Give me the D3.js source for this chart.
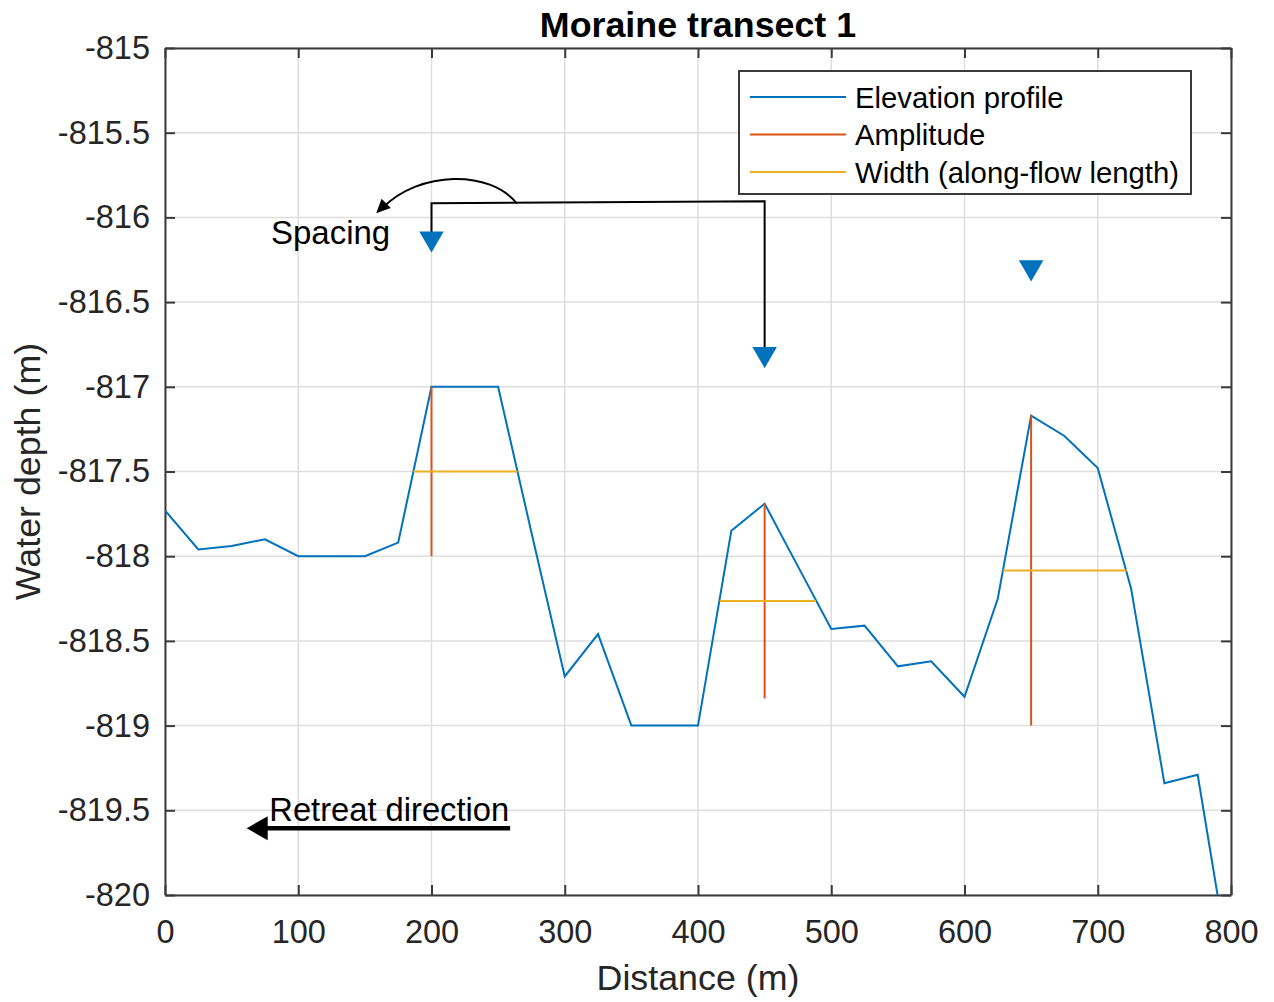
<!DOCTYPE html>
<html>
<head>
<meta charset="utf-8">
<script src="https://cdn.jsdelivr.net/npm/d3@7"></script>
<style>
  html, body { margin: 0; padding: 0; background: #fff; }
  svg { display: block; font-family: "Liberation Sans", Arial, Helvetica, sans-serif; }
</style>
</head>
<body>
<svg id="chart" width="1274" height="1002"></svg>
<script>
// Elevation profile along the transect (distance in m, water depth in m)
const distance = [0, 25, 50, 75, 100, 125, 150, 175, 200, 225, 250, 275, 300, 325, 350, 375, 400,
                  425, 450, 475, 500, 525, 550, 575, 600, 625, 650, 675, 700, 725, 750, 775, 800];
const depth = [-817.73, -817.96, -817.94, -817.90, -818.00, -818.00, -818.00, -817.92, -817.00, -817.00,
               -817.00, -817.86, -818.71, -818.46, -819.00, -819.00, -819.00, -817.85, -817.69, -818.06,
               -818.43, -818.41, -818.65, -818.62, -818.83, -818.25, -817.17, -817.29, -817.48, -818.19,
               -819.34, -819.29, -820.48];

// Moraine crests: amplitude (vertical) and width (along-flow length at half amplitude)
const crestX = [200, 450, 650];
const crestTop = [-817.00, -817.69, -817.17];
const crestBase = [-818.00, -818.84, -819.00];
const widthLevel = [-817.50, -818.265, -818.085];
const widthStart = [186.4, 416.3, 628.8];
const widthEnd = [264.6, 488.6, 721.8];
const markerDepth = [-816.145, -816.827, -816.316];

// Axis ticks
const xTicks = [0, 100, 200, 300, 400, 500, 600, 700, 800];
const yTicks = [-815, -815.5, -816, -816.5, -817, -817.5, -818, -818.5, -819, -819.5, -820];

const legendLabels = ["Elevation profile", "Amplitude", "Width (along-flow length)"];
const colors = { profile: "#0072BD", amplitude: "#D95319", width: "#EDB120" };

const svg = d3.select("#chart");
const m = { left: 165, right: 1231, top: 48, bottom: 895 };

const x = d3.scaleLinear().domain([0, 800]).range([m.left, m.right]);
const y = d3.scaleLinear().domain([-820, -815]).range([m.bottom, m.top]);

const axisColor = "#262626";
const tickFont = 32.5;

// clip region for the plotting area
svg.append("defs").append("clipPath").attr("id", "plotClip")
  .append("rect").attr("x", m.left).attr("y", m.top)
  .attr("width", m.right - m.left).attr("height", m.bottom - m.top);

// background
svg.append("rect").attr("x", m.left).attr("y", m.top)
  .attr("width", m.right - m.left).attr("height", m.bottom - m.top).attr("fill", "#fff");

// grid
const grid = svg.append("g").attr("stroke", "#dedede").attr("stroke-width", 1.5);
grid.selectAll(".gx").data(xTicks).join("line")
  .attr("x1", d => x(d)).attr("x2", d => x(d)).attr("y1", m.top).attr("y2", m.bottom);
grid.selectAll(".gy").data(yTicks).join("line")
  .attr("y1", d => y(d)).attr("y2", d => y(d)).attr("x1", m.left).attr("x2", m.right);

// axes with inward ticks on all four sides
function styleAxis(g) {
  g.selectAll(".domain").attr("stroke", "#3a3a3a").attr("stroke-width", 2);
  g.selectAll(".tick line").attr("stroke", "#3a3a3a").attr("stroke-width", 2);
  g.selectAll(".tick text").attr("fill", axisColor).attr("font-size", tickFont)
    .attr("font-family", "Liberation Sans, Arial, sans-serif");
}
const fmt = d => String(d);

svg.append("g").attr("transform", `translate(0,${m.bottom})`)
  .call(d3.axisBottom(x).tickValues(xTicks).tickFormat(fmt).tickSize(-10).tickSizeOuter(0).tickPadding(25))
  .call(styleAxis);
svg.append("g").attr("transform", `translate(0,${m.top})`)
  .call(d3.axisTop(x).tickValues(xTicks).tickFormat("").tickSize(-10).tickSizeOuter(0))
  .call(styleAxis);
svg.append("g").attr("transform", `translate(${m.left},0)`)
  .call(d3.axisLeft(y).tickValues(yTicks).tickFormat(fmt).tickSize(-10).tickSizeOuter(0).tickPadding(15))
  .call(styleAxis);
svg.append("g").attr("transform", `translate(${m.right},0)`)
  .call(d3.axisRight(y).tickValues(yTicks).tickFormat("").tickSize(-10).tickSizeOuter(0))
  .call(styleAxis);

const plot = svg.append("g").attr("clip-path", "url(#plotClip)");

// elevation profile
const line = d3.line().x((d, i) => x(distance[i])).y(d => y(d));
plot.append("path").datum(depth)
  .attr("d", line).attr("fill", "none")
  .attr("stroke", colors.profile).attr("stroke-width", 2).attr("stroke-linejoin", "miter");

// amplitude lines
plot.selectAll(".amp").data(crestX).join("line")
  .attr("x1", d => x(d)).attr("x2", d => x(d))
  .attr("y1", (d, i) => y(crestTop[i])).attr("y2", (d, i) => y(crestBase[i]))
  .attr("stroke", colors.amplitude).attr("stroke-width", 2);

// width lines
plot.selectAll(".wid").data(widthLevel).join("line")
  .attr("x1", (d, i) => x(widthStart[i])).attr("x2", (d, i) => x(widthEnd[i]))
  .attr("y1", d => y(d)).attr("y2", d => y(d))
  .attr("stroke", colors.width).attr("stroke-width", 2);

// spacing connector between the first two crests
const connector = [[200, markerDepth[0]], [200, -815.917], [450, -815.905], [450, markerDepth[1]]];
svg.append("path")
  .attr("d", d3.line().x(d => x(d[0])).y(d => y(d[1]))(connector))
  .attr("fill", "none").attr("stroke", "#000").attr("stroke-width", 2);

// curved arrow pointing to the "Spacing" label
const curve = { start: [264, -815.917], c1: [243.9, -815.72], c2: [191.4, -815.72], end: [158.5, -815.975] };
const cp = k => [x(curve[k][0]), y(curve[k][1])];
const [sx, sy] = cp("start"), [c1x, c1y] = cp("c1"), [c2x, c2y] = cp("c2"), [ex, ey] = cp("end");
svg.append("path")
  .attr("d", `M${sx},${sy} C${c1x},${c1y} ${c2x},${c2y} ${ex + 6},${ey - 5}`)
  .attr("fill", "none").attr("stroke", "#000").attr("stroke-width", 2);
{
  const ang = Math.atan2(ey - c2y, ex - c2x);
  const L = 14, W = 6.5;
  const bx = ex - L * Math.cos(ang), by = ey - L * Math.sin(ang);
  const px = -Math.sin(ang) * W, py = Math.cos(ang) * W;
  svg.append("path")
    .attr("d", `M${ex},${ey} L${bx + px},${by + py} L${bx - px},${by - py} Z`)
    .attr("fill", "#000");
}

// crest markers (downward triangles, centred on their bounding box)
const tri = d3.symbol().type(d3.symbolTriangle).size(260);
svg.selectAll(".mk").data(crestX).join("path")
  .attr("d", tri)
  .attr("transform", (d, i) => `translate(${x(d)},${y(markerDepth[i]) - 3.5}) rotate(180)`)
  .attr("fill", colors.profile);

// annotations
svg.append("text").attr("x", x(79.5)).attr("y", y(-816.156))
  .attr("font-size", 33).attr("fill", "#000").text("Spacing");

svg.append("text").attr("x", x(78.3)).attr("y", y(-819.561))
  .attr("font-size", 32.7).attr("fill", "#000").text("Retreat direction");

{
  const ay = y(-819.606), x0 = x(259), tip = x(61.3);
  svg.append("line").attr("x1", x0).attr("x2", tip + 18).attr("y1", ay).attr("y2", ay)
    .attr("stroke", "#000").attr("stroke-width", 4.5);
  svg.append("path")
    .attr("d", `M${tip},${ay} L${tip + 21},${ay - 12} L${tip + 21},${ay + 12} Z`).attr("fill", "#000");
}

// legend
const lg = svg.append("g");
lg.append("rect").attr("x", 739).attr("y", 71).attr("width", 452).attr("height", 123)
  .attr("fill", "#fff").attr("stroke", "#3a3a3a").attr("stroke-width", 2);
const legendColors = [colors.profile, colors.amplitude, colors.width];
const rowY = [97, 134.5, 172];
legendLabels.forEach((lab, i) => {
  lg.append("line").attr("x1", 750).attr("x2", 846).attr("y1", rowY[i]).attr("y2", rowY[i])
    .attr("stroke", legendColors[i]).attr("stroke-width", 2);
  lg.append("text").attr("x", 855).attr("y", rowY[i] + 10.5)
    .attr("font-size", 29.3).attr("fill", "#000").text(lab);
});

// title and axis labels
svg.append("text").attr("x", (m.left + m.right) / 2).attr("y", 37)
  .attr("text-anchor", "middle").attr("font-size", 35.8).attr("font-weight", "bold")
  .attr("fill", "#000").text("Moraine transect 1");
svg.append("text").attr("x", (m.left + m.right) / 2).attr("y", 990)
  .attr("text-anchor", "middle").attr("font-size", 35.8).attr("fill", axisColor).text("Distance (m)");
svg.append("text").attr("transform", `translate(40,${(m.top + m.bottom) / 2}) rotate(-90)`)
  .attr("text-anchor", "middle").attr("font-size", 35.8).attr("fill", axisColor).text("Water depth (m)");
</script>
</body>
</html>
